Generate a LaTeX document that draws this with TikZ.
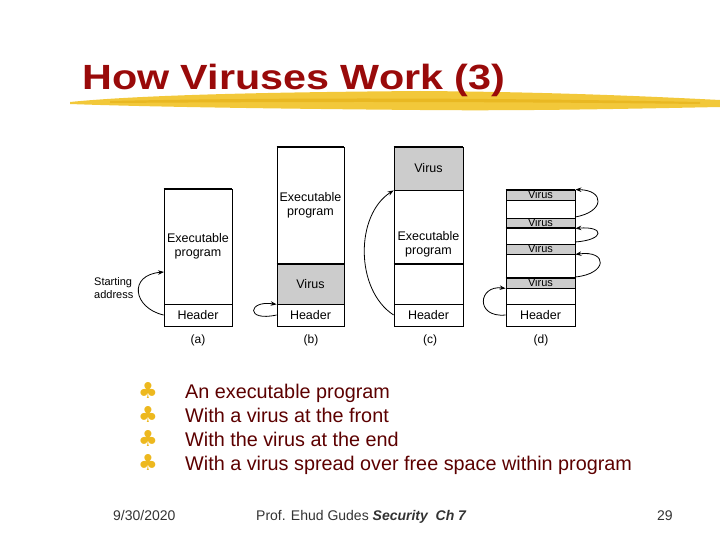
\documentclass[tikz,border=0pt]{standalone}
\usepackage{fontspec}
\setmainfont{Liberation Sans}
\newfontfamily\symfont{DejaVu Sans}
\definecolor{titlered}{HTML}{990A0A}
\definecolor{bodyred}{HTML}{5C0000}
\definecolor{brush}{HTML}{F2C83A}
\definecolor{brushdark}{HTML}{E4AE12}
\definecolor{clubgold}{HTML}{EDB81E}
\definecolor{virusgray}{HTML}{CCCCCC}
\definecolor{footgray}{HTML}{333333}
\usetikzlibrary{arrows.meta, positioning}
\tikzset{
  seg/.style={draw, line width=0.8pt, inner sep=0pt, minimum width=#1,
    font=\fontsize{12.5}{14}\selectfont, align=center},
  seg/.default=68pt,
  vseg/.style={seg=#1, fill=virusgray},
  vseg/.default=68pt,
  thk/.style={line width=2pt},
  jmp/.style={-{Stealth[length=6pt,width=4.5pt]}, line width=0.8pt},
  sublbl/.style={font=\fontsize{12}{14}\selectfont},
  bullet/.style={anchor=base west, inner sep=0pt, text=bodyred, font=\fontsize{19.8}{22}\selectfont},
  club/.style={anchor=base, inner sep=0pt, text=clubgold, font=\symfont\fontsize{22}{24}\selectfont},
  foot/.style={anchor=base west, inner sep=0pt, text=footgray, font=\fontsize{14}{16}\selectfont},
}
\begin{document}
\begin{tikzpicture}[x=1pt, y=-1pt]
  \useasboundingbox (0,0) rectangle (720,540);

  % brush stroke under the title
  \fill[brush] (70,102) .. controls (150,94) and (300,92) .. (420,91)
    .. controls (560,92) and (660,97) .. (720,100) -- (720,107)
    .. controls (620,109) and (520,111) .. (420,110)
    .. controls (300,109) and (150,107) .. (70,104) -- cycle;
  \fill[brushdark, opacity=0.6] (110,101) .. controls (250,98) and (450,97) .. (700,102)
    -- (700,104) .. controls (450,101) and (250,102) .. (110,103) -- cycle;
  \node[anchor=base west, text=titlered, inner sep=0pt, xscale=1.18, transform shape,
    font=\fontsize{35}{40}\selectfont\bfseries] (title) at (82,90) {How Viruses Work (3)};

  % (a) executable program
  \node[seg, minimum height=115pt] (aExe) at (198,246.5) {Executable\\program};
  \node[seg, minimum height=22pt] (aHdr) at (198,315) {Header};
  \draw[thk] (aExe.north west) -- (aExe.north east);
  \node[sublbl] (aCap) at (198,340) {(a)};
  \node[sublbl, font=\fontsize{11}{13}\selectfont, align=left, anchor=west, inner sep=0pt]
    (start) at (94,288) {Starting\\address};
  \coordinate (aTo) at (164,272);
  \draw[jmp] (aHdr.west) .. controls (133,308) and (128,275) .. (aTo);

  % (b) virus at the front
  \node[seg=67pt, minimum height=117pt] (bExe) at (310.5,205.5) {Executable\\program};
  \node[vseg=67pt, minimum height=40pt] (bVir) at (310.5,284) {Virus};
  \node[seg=67pt, minimum height=22pt] (bHdr) at (310.5,315) {Header};
  \draw[thk] (bExe.north west) -- (bExe.north east);
  \draw[thk] (bVir.north west) -- (bVir.north east);
  \node[sublbl] (bCap) at (311,340) {(b)};
  \draw[jmp] (bHdr.west) .. controls (245,322) and (248,300) .. (bVir.south west);

  % (c) virus at the end
  \node[vseg=69pt, minimum height=43pt] (cVir) at (428.5,168.5) {Virus};
  \node[seg=69pt, minimum height=74pt] (cExe) at (428.5,227) {};
  \node[seg=69pt, draw=none, align=center] (cExeTxt) at (428.5,244) {Executable\\program};
  \node[seg=69pt, minimum height=40pt] (cFree) at (428.5,284) {};
  \node[seg=69pt, minimum height=22pt] (cHdr) at (428.5,315) {Header};
  \draw[thk] (cVir.north west) -- (cVir.north east);
  \draw[thk] (cFree.north west) -- (cFree.north east);
  \node[sublbl] (cCap) at (430,340) {(c)};
  \draw[jmp] (cHdr.west) .. controls (355,290) and (355,215) .. (cVir.south west);

  % (d) virus spread over free space
  \node[vseg=69pt, minimum height=10pt, font=\fontsize{11}{12}\selectfont] (dV1) at (540.5,195) {Virus};
  \node[seg=69pt, minimum height=18pt] (dG1) at (540.5,209) {};
  \node[vseg=69pt, minimum height=10pt, font=\fontsize{11}{12}\selectfont] (dV2) at (540.5,223) {Virus};
  \node[seg=69pt, minimum height=16pt] (dG2) at (540.5,236) {};
  \node[vseg=69pt, minimum height=10pt, font=\fontsize{11}{12}\selectfont] (dV3) at (540.5,249) {Virus};
  \node[seg=69pt, minimum height=24pt] (dG3) at (540.5,266) {};
  \node[vseg=69pt, minimum height=10pt, font=\fontsize{11}{12}\selectfont] (dV4) at (540.5,283) {Virus};
  \node[seg=69pt, minimum height=16pt] (dG4) at (540.5,296) {};
  \node[seg=69pt, minimum height=22pt] (dHdr) at (540.5,315) {Header};
  \draw[thk] (dV1.north west) -- (dV1.north east);
  \draw[thk] (dG2.north west) -- (dG2.north east);
  \draw[thk] (dV4.north west) -- (dV4.north east);
  \node[sublbl] (dCap) at (541,340) {(d)};
  \coordinate (d1) at (575,217);
  \coordinate (d2) at (575,242);
  \coordinate (d3) at (575,277);
  \draw[jmp] (dHdr.west) .. controls (475,318) and (478,285) .. (dV4.south west);
  \draw[jmp] (d1) .. controls (605,212) and (605,190) .. (dV1.north east);
  \draw[jmp] (d2) .. controls (605,240) and (605,226) .. (dV2.south east);
  \draw[jmp] (d3) .. controls (608,274) and (608,250) .. (dV3.south east);

  % bullets
  \foreach \i/\txt in {0/An executable program, 1/With a virus at the front,
      2/With the virus at the end, 3/With a virus spread over free space within program}{
    \node[club] (club\i) at (148,398+24*\i) {♣};
    \node[bullet] (item\i) at (185,398+24*\i) {\txt};
  }

  % footer
  \node[foot] (date) at (113,520) {9/30/2020};
  \node[foot] (author) at (256,520) {Prof. Ehud Gudes \textbf{\textit{Security\ \ Ch 7}}};
  \node[foot] (page) at (657,520) {29};
\end{tikzpicture}
\end{document}
